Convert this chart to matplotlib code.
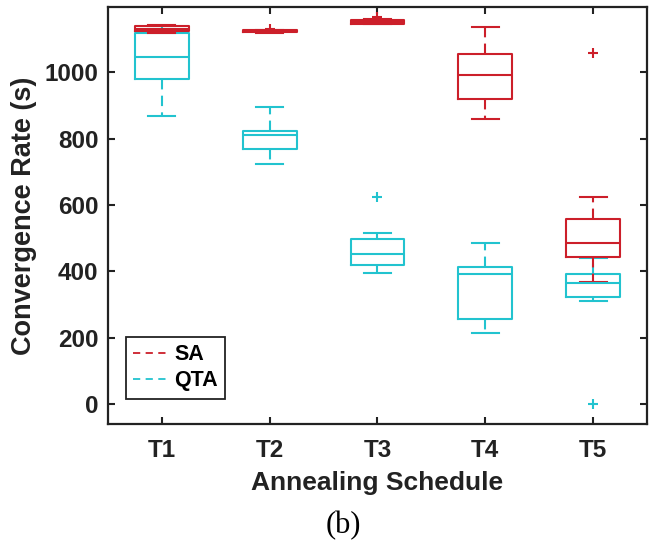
import matplotlib
matplotlib.use('Agg')
import matplotlib.pyplot as plt
import matplotlib.lines as mlines

# annealing schedules on the x axis
schedules = ['T1', 'T2', 'T3', 'T4', 'T5']

# box summaries per schedule: lower whisker, Q1, median, Q3, upper whisker
sa_whislo = [1120, 1120, 1145, 860, 369]
sa_q1 = [1124, 1122, 1147, 920, 442]
sa_med = [1130, 1125, 1153, 992, 487]
sa_q3 = [1140, 1127, 1157, 1056, 557]
sa_whishi = [1142, 1129, 1160, 1137, 625]
sa_fliers = [[], [1130], [1168], [], [1059]]

qta_whislo = [869, 724, 395, 213, 312]
qta_q1 = [980, 768, 418, 258, 322]
qta_med = [1047, 810, 452, 391, 364]
qta_q3 = [1119, 823, 498, 412, 392]
qta_whishi = [1140, 895, 517, 485, 440]
qta_fliers = [[], [], [625], [], [0]]

SA_COLOR = '#CC1F2A'
QTA_COLOR = '#22C3CF'
FONT = 'Liberation Sans'


def make_stats(lo, q1, med, q3, hi, fliers):
    stats = []
    for i in range(len(lo)):
        stats.append({'whislo': lo[i], 'q1': q1[i], 'med': med[i],
                      'q3': q3[i], 'whishi': hi[i], 'fliers': fliers[i]})
    return stats


def draw_boxes(ax, stats, color):
    ax.bxp(stats, positions=range(1, len(stats) + 1), widths=0.5,
           capwidths=0.25, showfliers=True, patch_artist=False,
           boxprops=dict(color=color, linewidth=1.5),
           medianprops=dict(color=color, linewidth=1.5),
           whiskerprops=dict(color=color, linewidth=1.5, linestyle=(0, (5, 3))),
           capprops=dict(color=color, linewidth=1.5),
           flierprops=dict(marker='+', markeredgecolor=color,
                           markersize=7, markeredgewidth=1.5))


fig = plt.figure(figsize=(6.53, 5.52), dpi=100)
ax = fig.add_axes([0.1654, 0.2319, 0.8254, 0.7554])

draw_boxes(ax, make_stats(qta_whislo, qta_q1, qta_med, qta_q3, qta_whishi, qta_fliers), QTA_COLOR)
draw_boxes(ax, make_stats(sa_whislo, sa_q1, sa_med, sa_q3, sa_whishi, sa_fliers), SA_COLOR)

ax.set_xlim(0.5, 5.5)
ax.set_ylim(-60, 1197)
ax.set_xticks(range(1, 6))
ax.set_xticklabels(schedules)
ax.set_yticks(range(0, 1001, 200))

for spine in ax.spines.values():
    spine.set_linewidth(1.6)
    spine.set_color('#222222')
ax.tick_params(direction='in', top=True, right=True, length=5, width=1.5,
               colors='#222222', labelsize=17.5)
ax.tick_params(axis='x', pad=11)
ax.tick_params(axis='y', pad=7)
for lab in ax.get_xticklabels() + ax.get_yticklabels():
    lab.set_fontfamily(FONT)
    lab.set_fontweight('bold')

ax.set_xlabel('Annealing Schedule', fontsize=19, fontweight='bold',
              family=FONT, color='#222222', labelpad=6)
ax.set_ylabel('Convergence Rate (s)', fontsize=19.5, fontweight='bold',
              family=FONT, color='#222222', labelpad=5)

handles = [mlines.Line2D([], [], color=SA_COLOR, linestyle=(0, (4, 3)), lw=1.3),
           mlines.Line2D([], [], color=QTA_COLOR, linestyle=(0, (4, 3)), lw=1.3)]
leg = ax.legend(handles, ['SA', 'QTA'], loc='lower left',
                bbox_to_anchor=(0.033, 0.06), borderaxespad=0,
                fancybox=False, framealpha=1, edgecolor='#222222',
                handlelength=1.5, handletextpad=0.4, borderpad=0.35,
                labelspacing=0.25,
                prop={'family': FONT, 'weight': 'bold', 'size': 15.5})
leg.get_frame().set_linewidth(1.3)

fig.text(0.526, 0.047, '(b)', ha='center', va='center', fontsize=22,
         family='Liberation Serif')

fig.savefig('out.png', dpi=100)
